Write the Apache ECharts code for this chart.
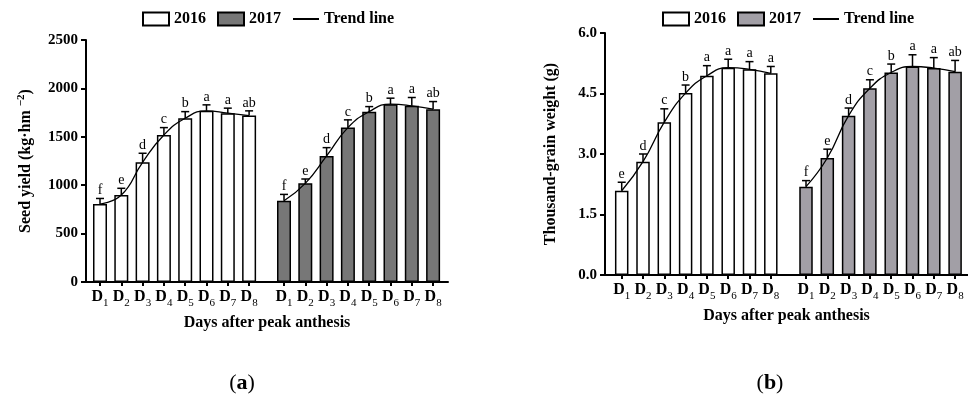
<!DOCTYPE html>
<html><head><meta charset="utf-8">
<script src="https://cdn.jsdelivr.net/npm/echarts@6/dist/echarts.min.js"></script>
<style>html,body{margin:0;padding:0;background:#fff;}#c{width:968px;height:401px;}</style>
</head><body><div id="c"></div>
<script>
// ---------- data ----------
const categories = ['D1','D2','D3','D4','D5','D6','D7','D8'];

// (a) Seed yield (kg·hm-2)
const yield2016 = [805, 898, 1237, 1519, 1692, 1768, 1744, 1719];
const yieldErr2016 = [58, 70, 93, 76, 68, 62, 52, 49];
const yieldLetters2016 = ['f','e','d','c','b','a','a','ab'];
const yield2017 = [839, 1019, 1302, 1595, 1760, 1837, 1820, 1785];
const yieldErr2017 = [66, 45, 86, 80, 52, 62, 86, 79];
const yieldLetters2017 = ['f','e','d','c','b','a','a','ab'];
const yieldTicks = [0, 500, 1000, 1500, 2000, 2500];

// (b) Thousand-grain weight (g)
const tgw2016 = [2.09, 2.81, 3.79, 4.51, 4.94, 5.14, 5.10, 5.00];
const tgwErr2016 = [0.21, 0.19, 0.33, 0.20, 0.25, 0.21, 0.19, 0.17];
const tgwLetters2016 = ['e','d','c','b','a','a','a','a'];
const tgw2017 = [2.19, 2.90, 3.95, 4.63, 5.02, 5.17, 5.13, 5.04];
const tgwErr2017 = [0.15, 0.22, 0.19, 0.21, 0.21, 0.29, 0.26, 0.28];
const tgwLetters2017 = ['f','e','d','c','b','a','a','ab'];
const tgwTicks = [0, 1.5, 3.0, 4.5, 6.0];

// ---------- styling ----------
const SERIF = '"Liberation Serif","Times New Roman",serif';
const BLACK = '#000';
const GRAY_A = '#777777';
const GRAY_B = '#a29fa6';

const chart = echarts.init(document.getElementById('c'));

const grids = [];
const xAxes = [];
const yAxes = [];
const series = [];

function xLabelRich() {
  return {
    d: {fontFamily: SERIF, fontWeight: 'bold', fontSize: 16, color: BLACK, lineHeight: 16, verticalAlign: 'top'},
    s: {fontFamily: SERIF, fontSize: 11, color: BLACK, lineHeight: 20, verticalAlign: 'bottom'}
  };
}

function addPanel(cfg) {
  const fIdx = grids.length;
  grids.push({left: cfg.frameLeft, top: cfg.top, width: cfg.frameWidth, height: cfg.height});
  xAxes.push({
    gridIndex: fIdx, type: 'value', min: 0, max: 1,
    axisLine: {show: true, lineStyle: {color: BLACK, width: 2}},
    axisTick: {show: false}, axisLabel: {show: false}, splitLine: {show: false},
    name: 'Days after peak anthesis', nameLocation: 'middle', nameGap: 33,
    nameTextStyle: {fontFamily: SERIF, fontWeight: 'bold', fontSize: 16, color: BLACK}
  });
  yAxes.push({
    gridIndex: fIdx, type: 'value', min: cfg.ticks[0], max: cfg.ticks[cfg.ticks.length - 1],
    interval: cfg.ticks[1] - cfg.ticks[0],
    axisLine: {show: true, lineStyle: {color: BLACK, width: 2}},
    axisTick: {show: true, length: 5, lineStyle: {color: BLACK, width: 2}},
    splitLine: {show: false},
    axisLabel: {margin: 8, fontFamily: SERIF, fontWeight: 'bold', fontSize: 15, color: BLACK,
      formatter: cfg.fmt},
    name: cfg.yName, nameLocation: 'middle', nameGap: cfg.nameGap,
    nameTextStyle: {fontFamily: SERIF, fontWeight: 'bold', fontSize: 16, color: BLACK, lineHeight: 20,
      rich: {sup: {fontFamily: SERIF, fontWeight: 'bold', fontSize: 11, color: BLACK, lineHeight: 11, verticalAlign: 'top'}}}
  });
  cfg.groups.forEach((g) => {
    const gi = grids.length;
    grids.push({left: g.left, top: cfg.top, width: cfg.groupWidth, height: cfg.height});
    xAxes.push({
      gridIndex: gi, type: 'category', data: categories,
      axisLine: {show: false},
      axisTick: {show: true, alignWithLabel: true, interval: 0, length: 4, lineStyle: {color: BLACK, width: 2}},
      axisLabel: {margin: 7, interval: 0, formatter: v => '{d|D}{s|' + v.slice(1) + '}', rich: xLabelRich()},
      splitLine: {show: false}
    });
    yAxes.push({gridIndex: gi, type: 'value', show: false,
      min: cfg.ticks[0], max: cfg.ticks[cfg.ticks.length - 1], splitLine: {show: false}});
    series.push({
      name: cfg.prefix + g.year, type: 'bar', xAxisIndex: gi, yAxisIndex: gi,
      data: g.values, barWidth: cfg.barWidth,
      itemStyle: {color: g.color, borderColor: BLACK, borderWidth: 1.5},
      z: 2, silent: true
    });
    const letters = g.letters;
    series.push({
      name: cfg.prefix + 'err' + g.year, type: 'custom', xAxisIndex: gi, yAxisIndex: gi,
      data: g.values.map((v, i) => [i, v, v + g.err[i]]),
      z: 4, silent: true,
      renderItem: function (params, api) {
        const p0 = api.coord([api.value(0), api.value(1)]);
        const p1 = api.coord([api.value(0), api.value(2)]);
        return {
          type: 'group',
          children: [
            {type: 'line', shape: {x1: p0[0], y1: p0[1], x2: p1[0], y2: p1[1]}, style: {stroke: BLACK, lineWidth: 1.5}},
            {type: 'line', shape: {x1: p1[0] - 4, y1: p1[1], x2: p1[0] + 4, y2: p1[1]}, style: {stroke: BLACK, lineWidth: 1.5}},
            {type: 'text', x: p1[0], y: p1[1] - 1, style: {text: letters[params.dataIndex], fontFamily: SERIF, fontSize: 14, fill: BLACK, align: 'center', verticalAlign: 'bottom'}}
          ]
        };
      }
    });
    series.push({
      name: cfg.prefix + 'Trend', type: 'line', xAxisIndex: gi, yAxisIndex: gi,
      data: g.values, smooth: true, symbol: 'none',
      lineStyle: {color: BLACK, width: 1.3}, itemStyle: {color: BLACK},
      z: 3, silent: true
    });
  });
}

addPanel({
  prefix: 'a', frameLeft: 86, frameWidth: 362, top: 40, height: 242, groupWidth: 170.4, barWidth: 14,
  ticks: yieldTicks, fmt: v => String(v), nameGap: 50,
  yName: 'Seed yield (kg·hm {sup|−2})',
  groups: [
    {year: '2016', left: 89.35, values: yield2016, err: yieldErr2016, letters: yieldLetters2016, color: '#ffffff'},
    {year: '2017', left: 273.35, values: yield2017, err: yieldErr2017, letters: yieldLetters2017, color: GRAY_A}
  ]
});
addPanel({
  prefix: 'b', frameLeft: 605, frameWidth: 363, top: 33, height: 242, groupWidth: 170.4, barWidth: 13.5,
  ticks: tgwTicks, fmt: v => v.toFixed(1), nameGap: 44,
  yName: 'Thousand-grain weight (g)',
  groups: [
    {year: '2016', left: 611.05, values: tgw2016, err: tgwErr2016, letters: tgwLetters2016, color: '#ffffff'},
    {year: '2017', left: 795.35, values: tgw2017, err: tgwErr2017, letters: tgwLetters2017, color: GRAY_B}
  ]
});

const legendNames = {a2016: '2016', a2017: '2017', aTrend: 'Trend line', b2016: '2016', b2017: '2017', bTrend: 'Trend line'};
function legendCfg(prefix, left) {
  return {
    data: [
      {name: prefix + '2016', icon: 'rect'},
      {name: prefix + '2017', icon: 'rect'},
      {name: prefix + 'Trend', itemStyle: {color: 'rgba(0,0,0,0)', borderColor: 'rgba(0,0,0,0)', borderWidth: 0}}
    ],
    left: left, top: 11, padding: 0,
    itemWidth: 26, itemHeight: 13, itemGap: 11, selectedMode: false,
    formatter: n => legendNames[n],
    textStyle: {fontFamily: SERIF, fontWeight: 'bold', fontSize: 16, color: BLACK}
  };
}

chart.setOption({
  animation: false,
  backgroundColor: '#fff',
  legend: [legendCfg('a', 142), legendCfg('b', 662)],
  grid: grids, xAxis: xAxes, yAxis: yAxes, series: series,
  graphic: [
    {type: 'text', x: 242, y: 383, style: {text: '({b|a})', fontFamily: SERIF, fontSize: 22, fill: BLACK, align: 'center', verticalAlign: 'middle',
      rich: {b: {fontFamily: SERIF, fontSize: 22, fontWeight: 'bold', fill: BLACK}}}},
    {type: 'text', x: 770, y: 383, style: {text: '({b|b})', fontFamily: SERIF, fontSize: 22, fill: BLACK, align: 'center', verticalAlign: 'middle',
      rich: {b: {fontFamily: SERIF, fontSize: 22, fontWeight: 'bold', fill: BLACK}}}}
  ]
});
</script></body></html>
